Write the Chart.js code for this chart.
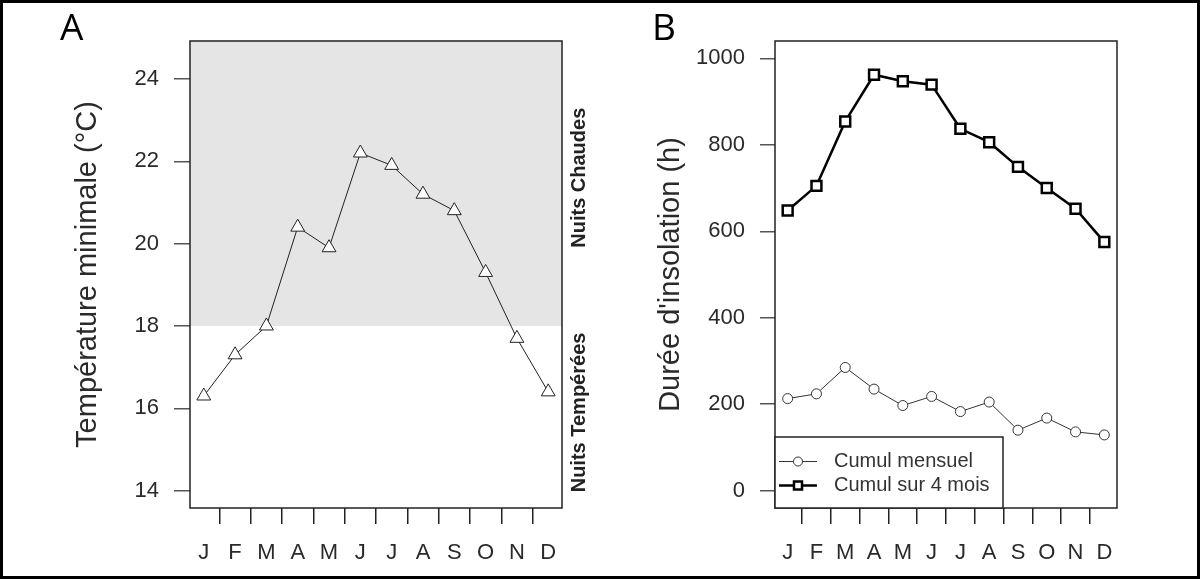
<!DOCTYPE html>
<html>
<head>
<meta charset="utf-8">
<script src="https://cdn.jsdelivr.net/npm/chart.js@4.4.1/dist/chart.umd.min.js"></script>
<style>
  html, body { margin: 0; padding: 0; background: #fff; }
  #wrap { position: relative; width: 1200px; height: 579px; overflow: hidden; }
  #frame { position: absolute; left: 0; top: 0; width: 1200px; height: 579px; box-sizing: border-box; border: 3px solid #000; pointer-events: none; }
  .panel { position: absolute; top: 0; width: 600px; height: 579px; }
  .lbl { position: absolute; top: 7px; font-family: "Open Sans", sans-serif; font-size: 37px; color: #000; line-height: 1; }
</style>
</head>
<body>
<div id="wrap">
  <div class="panel" style="left:0"><canvas id="chartA" width="600" height="579"></canvas></div>
  <div class="panel" style="left:600px"><canvas id="chartB" width="600" height="579"></canvas></div>
  <div class="lbl" style="left:60px">A</div>
  <div class="lbl" style="left:652px">B</div>
  <div id="frame"></div>
</div>
<script>
// donnees
const mois = ["J", "F", "M", "A", "M", "J", "J", "A", "S", "O", "N", "D"];
const tempMin = [16.3, 17.3, 18.0, 20.4, 19.9, 22.2, 21.9, 21.2, 20.8, 19.3, 17.7, 16.4];
const cumulMensuel = [213, 224, 285, 235, 197, 218, 183, 205, 140, 168, 136, 129];
const cumul4Mois = [648, 705, 854, 962, 947, 939, 837, 806, 749, 700, 652, 575];
const ticksTemp = [14, 16, 18, 20, 22, 24];
const ticksInsol = [0, 200, 400, 600, 800, 1000];
const seuilChaud = 18;

Chart.defaults.font.family = '"Liberation Sans", Arial, sans-serif';
Chart.defaults.color = '#2a2a2a';
Chart.defaults.animation = false;

const toXY = arr => arr.map((v, i) => ({ x: i, y: v }));

// graduations entre les mois, libelles sur les mois
function xAxis() {
  return {
    type: 'linear',
    min: -0.44,
    max: 11.44,
    afterBuildTicks: s => {
      const t = [];
      for (let i = 0; i < 12; i++) { t.push({ value: i }); if (i < 11) t.push({ value: i + 0.5 }); }
      s.ticks = t;
    },
    afterFit: s => { s.height = 71; },
    border: { display: false },
    grid: {
      drawOnChartArea: false,
      tickLength: 16,
      lineWidth: 1.5,
      color: c => (c.tick && c.tick.value % 1 !== 0) ? '#222' : 'rgba(0,0,0,0)'
    },
    ticks: {
      autoSkip: false,
      maxRotation: 0,
      minRotation: 0,
      padding: 16,
      font: { size: 22 },
      callback: v => (v % 1 === 0 ? mois[v] : '')
    }
  };
}

function yAxis(min, max, list, width, titre, titlePad, tickLen) {
  return {
    min: min,
    max: max,
    afterBuildTicks: s => { s.ticks = list.map(v => ({ value: v })); },
    afterFit: s => { s.width = width; },
    border: { display: false },
    grid: { drawOnChartArea: false, tickLength: tickLen, lineWidth: 1.5, color: '#555' },
    ticks: { padding: 15, font: { size: 22 }, callback: v => String(v) },
    title: { display: true, text: titre, font: { size: 29 }, padding: { top: titlePad, bottom: 0 } }
  };
}

const boxPlugin = {
  id: 'box',
  beforeDatasetsDraw(chart, args, opts) {
    const { ctx, chartArea: a } = chart;
    if (opts.shadeFrom !== undefined) {
      const y = chart.scales.y.getPixelForValue(opts.shadeFrom);
      ctx.save();
      ctx.fillStyle = '#e5e5e5';
      ctx.fillRect(a.left, a.top, a.right - a.left, y - a.top);
      ctx.restore();
    }
  },
  afterDraw(chart, args, opts) {
    const { ctx, chartArea: a } = chart;
    ctx.save();
    ctx.strokeStyle = '#222';
    ctx.lineWidth = 1.5;
    ctx.strokeRect(a.left, a.top, a.right - a.left, a.bottom - a.top);
    if (opts.sideTexts) {
      ctx.font = 'bold 20px "Liberation Sans", Arial, sans-serif';
      ctx.fillStyle = '#222';
      ctx.textAlign = 'center';
      ctx.textBaseline = 'middle';
      opts.sideTexts.forEach(t => {
        const y = chart.scales.y.getPixelForValue(t.at);
        ctx.save();
        ctx.translate(a.right + 17, y);
        ctx.rotate(-Math.PI / 2);
        ctx.fillText(t.text, 0, 0);
        ctx.restore();
      });
    }
    ctx.restore();
  }
};

// legende encadree en bas a gauche du panneau B
const legendBox = {
  id: 'legendBox',
  afterDraw(chart) {
    const { ctx, chartArea: a } = chart;
    const x0 = a.left, y0 = a.bottom - 71, w = 228, h = 71;
    ctx.save();
    ctx.fillStyle = '#fff';
    ctx.fillRect(x0, y0, w, h);
    ctx.strokeStyle = '#222';
    ctx.lineWidth = 1.5;
    ctx.strokeRect(x0, y0, w, h);
    chart.data.datasets.forEach((ds, i) => {
      const y = y0 + 24.5 + i * 24;
      ctx.strokeStyle = ds.borderColor;
      ctx.lineWidth = ds.borderWidth;
      ctx.beginPath();
      ctx.moveTo(x0 + 4, y);
      ctx.lineTo(x0 + 42, y);
      ctx.stroke();
      ctx.fillStyle = '#fff';
      ctx.lineWidth = ds.pointBorderWidth;
      ctx.strokeStyle = ds.pointBorderColor;
      if (ds.pointStyle === 'circle') {
        ctx.beginPath();
        ctx.arc(x0 + 23, y, 4.5, 0, Math.PI * 2);
        ctx.fill();
        ctx.stroke();
      } else {
        ctx.fillRect(x0 + 19, y - 4, 8, 8);
        ctx.strokeRect(x0 + 19, y - 4, 8, 8);
      }
      ctx.fillStyle = '#333';
      ctx.font = '20px "Liberation Sans", Arial, sans-serif';
      ctx.textBaseline = 'middle';
      ctx.fillText(ds.label, x0 + 59, y);
    });
    ctx.restore();
  }
};

new Chart(document.getElementById('chartA'), {
  type: 'line',
  data: {
    datasets: [{
      label: 'Température minimale',
      data: toXY(tempMin),
      borderColor: '#222',
      borderWidth: 1,
      pointStyle: 'triangle',
      pointRadius: 8,
      pointBackgroundColor: '#fff',
      pointBorderColor: '#222',
      pointBorderWidth: 1,
      tension: 0
    }]
  },
  options: {
    responsive: false,
    devicePixelRatio: 1,
    layout: { padding: { top: 41, right: 38, left: 0, bottom: 0 } },
    plugins: {
      legend: { display: false },
      tooltip: { enabled: false },
      box: {
        shadeFrom: seuilChaud,
        sideTexts: [{ text: 'Nuits Chaudes', at: 21.6 }, { text: 'Nuits Tempérées', at: 15.9 }]
      }
    },
    scales: {
      x: xAxis(),
      y: yAxis(13.58, 24.92, ticksTemp, 190, 'Température minimale (°C)', 71, 16)
    }
  },
  plugins: [boxPlugin]
});

new Chart(document.getElementById('chartB'), {
  type: 'line',
  data: {
    datasets: [{
      label: 'Cumul mensuel',
      data: toXY(cumulMensuel),
      borderColor: '#333',
      borderWidth: 1,
      pointStyle: 'circle',
      pointRadius: 5,
      pointBackgroundColor: '#fff',
      pointBorderColor: '#333',
      pointBorderWidth: 1,
      tension: 0
    }, {
      label: 'Cumul sur 4 mois',
      data: toXY(cumul4Mois),
      borderColor: '#000',
      borderWidth: 2.5,
      pointStyle: 'rect',
      pointRadius: 7,
      pointBackgroundColor: '#fff',
      pointBorderColor: '#000',
      pointBorderWidth: 2.5,
      tension: 0
    }]
  },
  options: {
    responsive: false,
    devicePixelRatio: 1,
    layout: { padding: { top: 41, right: 83, left: 0, bottom: 0 } },
    plugins: { legend: { display: false }, tooltip: { enabled: false }, box: {} },
    scales: {
      x: xAxis(),
      y: yAxis(-40, 1040, ticksInsol, 175, "Durée d'insolation (h)", 54, 15)
    }
  },
  plugins: [boxPlugin, legendBox]
});
</script>
</body>
</html>
